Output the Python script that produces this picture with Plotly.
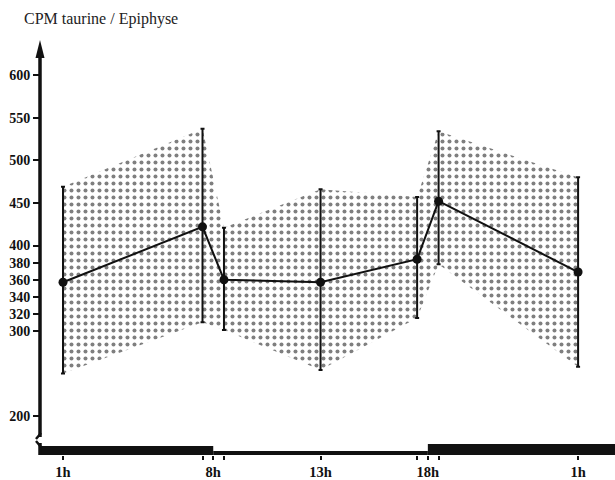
import plotly.graph_objects as go

# ---- data ----
hours = [1, 7.5, 8.5, 13, 17.5, 18.5, 25]
mean_cpm = [357, 422, 360, 357, 384, 452, 369]
upper_cpm = [469, 537, 421, 466, 457, 534, 480]
lower_cpm = [250, 310, 301, 254, 315, 378, 258]

y_tickvals = [200, 300, 320, 340, 360, 380, 400, 450, 500, 550, 600]
x_tickvals = [1, 7.5, 8, 8.5, 13, 17.5, 18, 18.5, 25]
x_ticktext = ["1h", "", "8h", "", "13h", "", "18h", "", "1h"]

dark_start, dark_end = 8, 18   # light/dark bar boundaries on the time axis

# ---- layout geometry ----
W, H = 615, 480
ML, MR, MT, MB = 40, 0, 40, 25
PW, PH = W - ML - MR, H - MT - MB
X_RANGE = [-0.072, 26.72]
Y_RANGE = [154.5, 641.0]

def ypx(px):
    """pixel row (from figure top) -> y data value"""
    return Y_RANGE[0] + (H - MB - px) / PH * (Y_RANGE[1] - Y_RANGE[0])

def xpaper(px):
    return (px - ML) / PW

serif = "Liberation Serif"
ink = "#111111"

fig = go.Figure()

# shaded band between upper and lower limits
fig.add_trace(go.Scatter(
    x=hours + hours[::-1],
    y=upper_cpm + lower_cpm[::-1],
    fill="toself",
    mode="lines",
    line=dict(width=0, color="rgba(0,0,0,0)"),
    fillcolor="white",
    fillpattern=dict(shape=".", fgcolor="#000000", bgcolor="white",
                     size=7, solidity=0.26),
    hoverinfo="skip",
    showlegend=False,
))

# mean line with range bars
fig.add_trace(go.Scatter(
    x=hours,
    y=mean_cpm,
    mode="lines+markers",
    line=dict(color=ink, width=2),
    marker=dict(color=ink, size=9),
    error_y=dict(
        type="data",
        symmetric=False,
        array=[u - m for u, m in zip(upper_cpm, mean_cpm)],
        arrayminus=[m - l for m, l in zip(mean_cpm, lower_cpm)],
        color=ink,
        thickness=2,
        width=2,
    ),
    showlegend=False,
))

shapes = []
# light/dark bars along the time axis
thick_l = 9 / PH
thin = 4 / PH
thick_r = 11 / PH
shapes.append(dict(type="rect", xref="x", yref="paper", x0=X_RANGE[0], x1=dark_start,
                   y0=0, y1=thick_l, fillcolor=ink, line=dict(width=0)))
shapes.append(dict(type="rect", xref="x", yref="paper", x0=dark_start, x1=dark_end,
                   y0=0, y1=thin, fillcolor=ink, line=dict(width=0)))
shapes.append(dict(type="rect", xref="x", yref="paper", x0=dark_end, x1=X_RANGE[1],
                   y0=0, y1=thick_r, fillcolor=ink, line=dict(width=0)))

# y axis line with a break near the bottom and an arrow on top
shapes.append(dict(type="line", xref="paper", yref="y", x0=0, x1=0,
                   y0=ypx(437), y1=ypx(52), line=dict(color=ink, width=3.5)))
shapes.append(dict(type="line", xref="paper", yref="y", x0=0, x1=0,
                   y0=ypx(455), y1=ypx(443), line=dict(color=ink, width=3.5)))
shapes.append(dict(type="line", xref="paper", yref="y", x0=xpaper(41), x1=xpaper(36),
                   y0=ypx(433), y1=ypx(439), line=dict(color=ink, width=2.5)))
shapes.append(dict(type="line", xref="paper", yref="y", x0=xpaper(41), x1=xpaper(36),
                   y0=ypx(447), y1=ypx(441), line=dict(color=ink, width=2.5)))
shapes.append(dict(type="path", xref="paper", yref="y",
                   path=f"M {xpaper(35.5)},{ypx(58)} L {xpaper(44.5)},{ypx(58)} L {xpaper(40)},{ypx(40)} Z",
                   fillcolor=ink, line=dict(width=0)))

fig.update_layout(
    width=W, height=H,
    margin=dict(l=ML, r=MR, t=MT, b=MB, autoexpand=False),
    paper_bgcolor="white",
    plot_bgcolor="white",
    shapes=shapes,
    annotations=[dict(
        text="CPM taurine / Epiphyse", xref="paper", yref="paper",
        x=xpaper(22), y=(H - MB - 19) / PH, xanchor="left", yanchor="middle",
        showarrow=False, font=dict(family=serif, size=16, color="#222222"),
    )],
    xaxis=dict(
        range=X_RANGE, showgrid=False, zeroline=False, showline=False,
        tickmode="array", tickvals=x_tickvals, ticktext=x_ticktext,
        ticks="outside", ticklen=4, tickwidth=1.5, tickcolor=ink,
        tickfont=dict(family=serif, size=14.5, color=ink, weight="bold"),
    ),
    yaxis=dict(
        range=Y_RANGE, showgrid=False, zeroline=False, showline=False,
        tickmode="array", tickvals=y_tickvals,
        ticks="outside", ticklen=6, tickwidth=1.5, tickcolor=ink,
        tickfont=dict(family=serif, size=14, color=ink, weight="bold"),
    ),
)

fig.write_html("out.html",
               config={"displayModeBar": False},
               post_script="document.body.style.margin='0px';document.body.style.padding='0px';")
